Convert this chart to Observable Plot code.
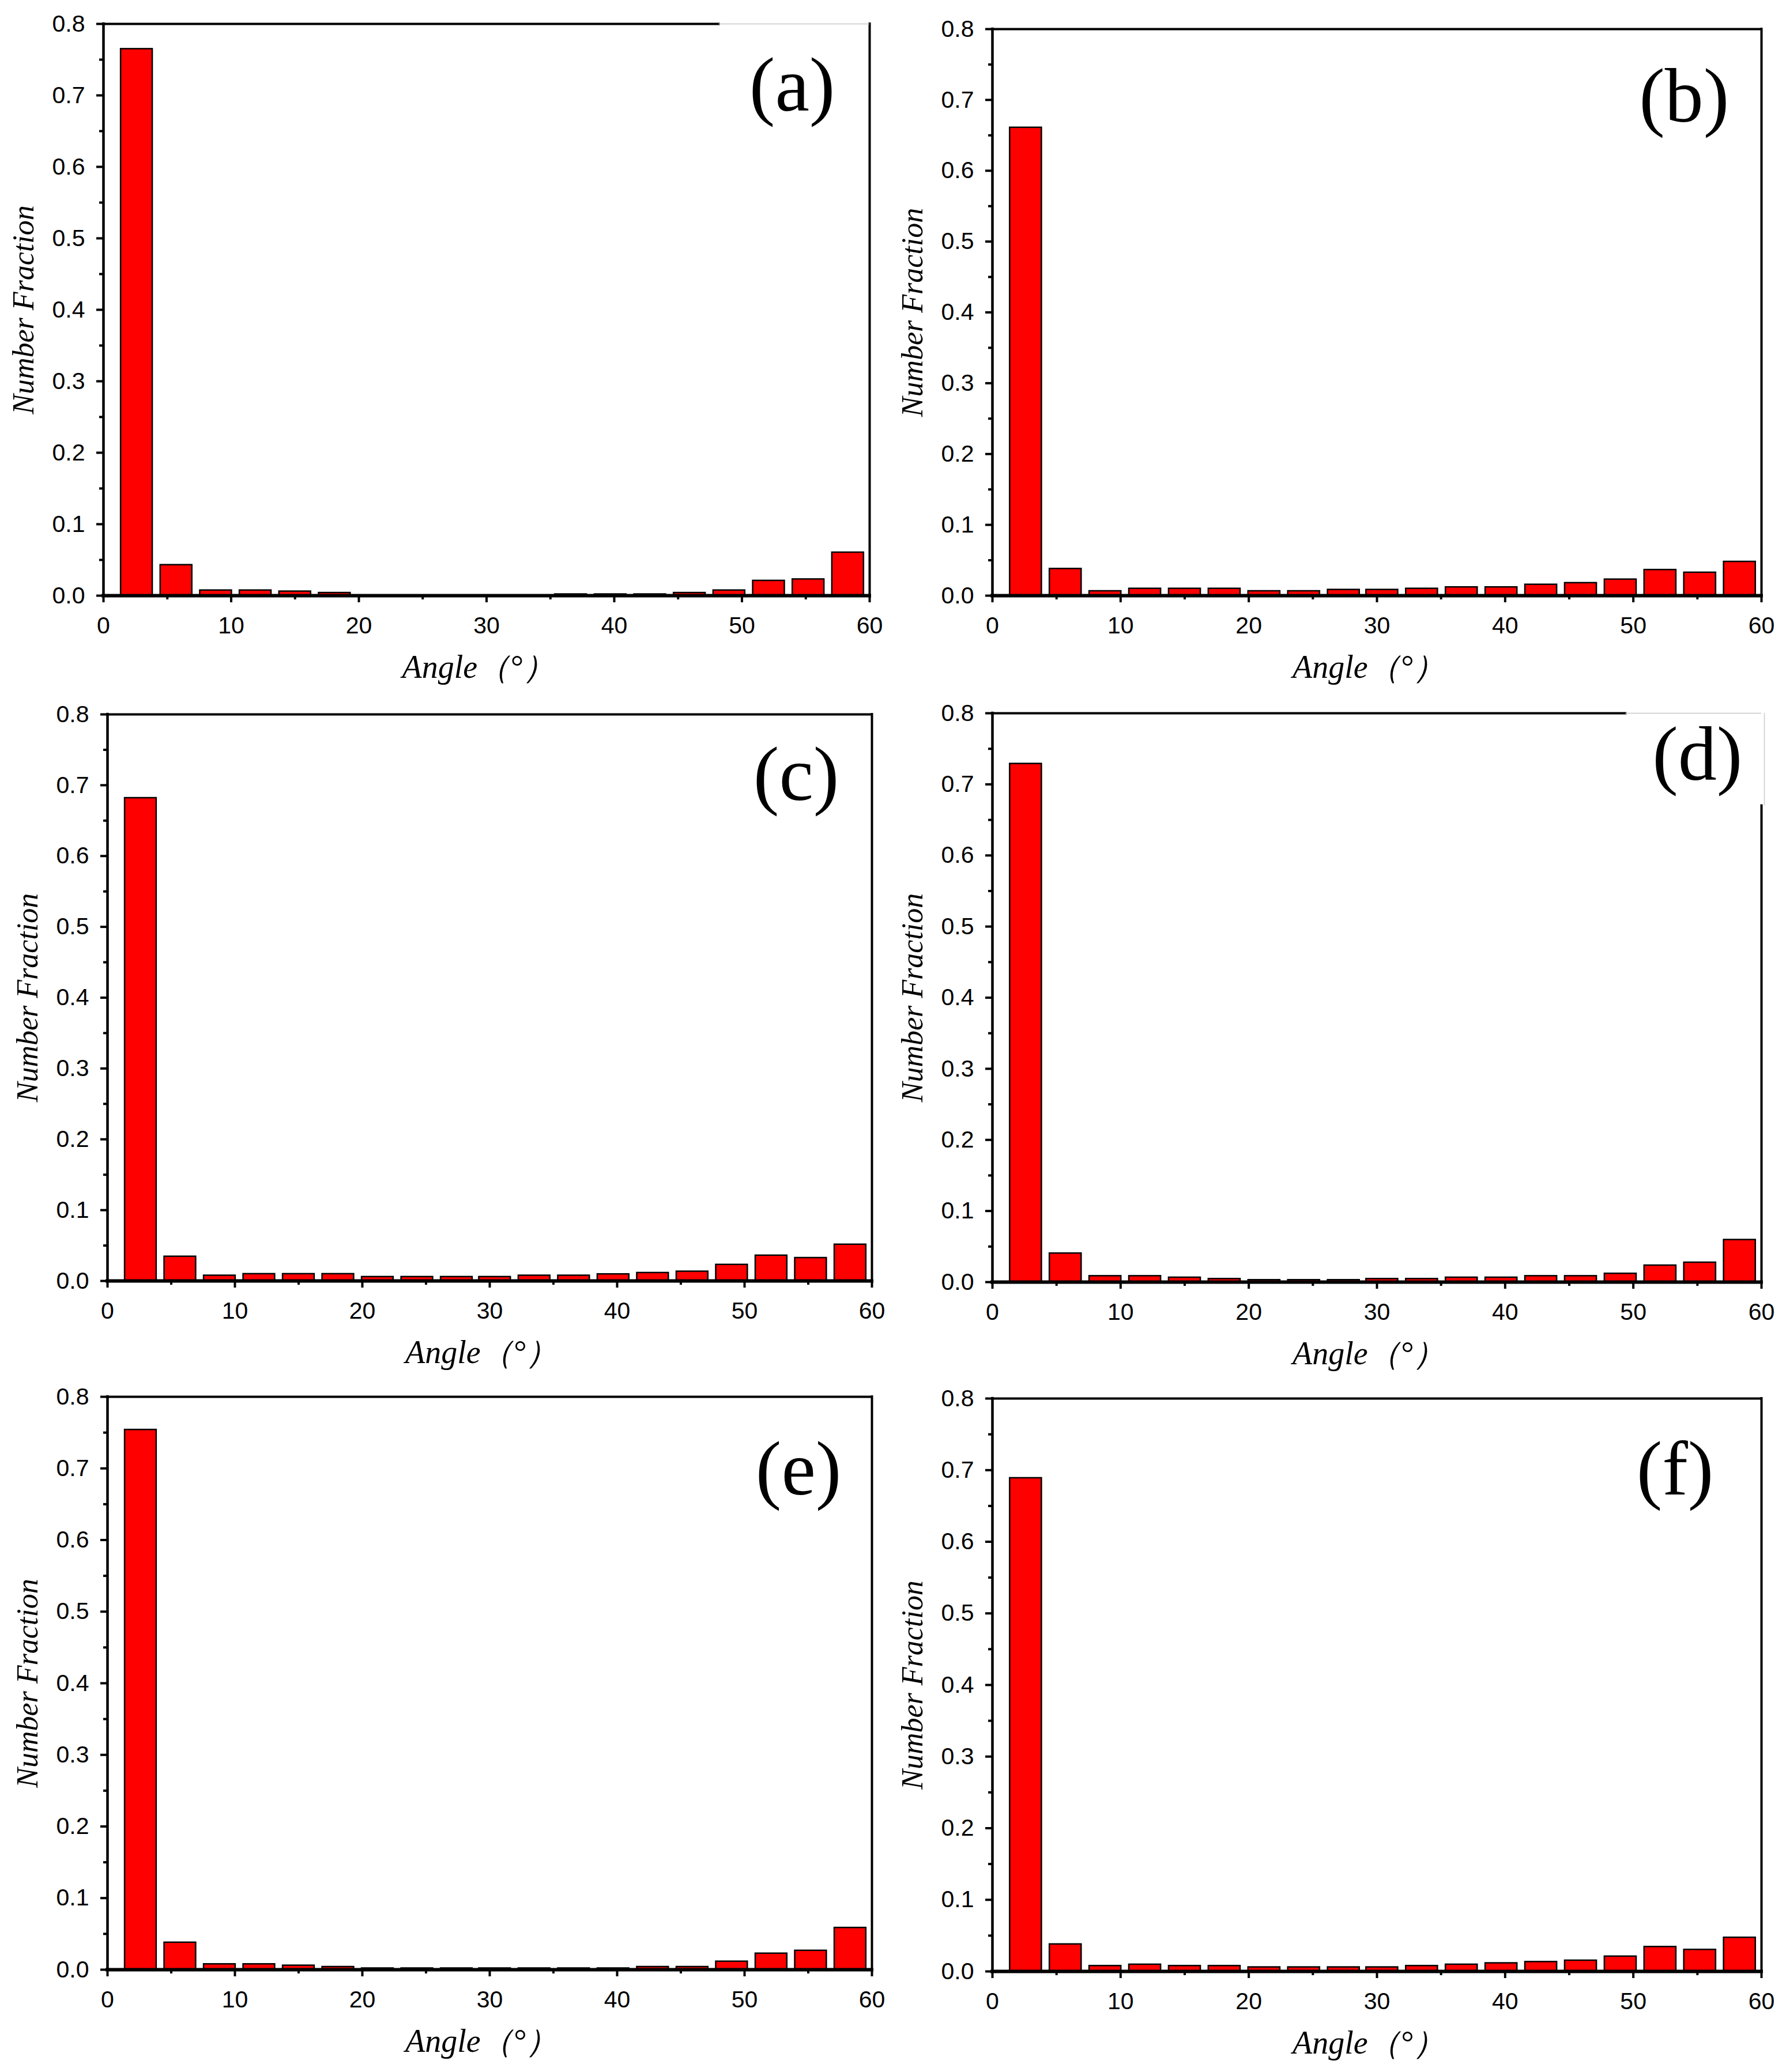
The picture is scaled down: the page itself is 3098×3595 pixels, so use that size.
<!DOCTYPE html>
<html><head><meta charset="utf-8">
<script src="https://cdn.jsdelivr.net/npm/d3@7"></script>
<script src="https://cdn.jsdelivr.net/npm/@observablehq/plot@0.6"></script>
<style>
body{margin:0;background:#fff;}
#wrap{position:relative;width:3098px;height:3595px;background:#fff;overflow:hidden;}
#wrap > svg{position:absolute;}
</style></head><body><div id="wrap"></div>
<script>
// ---- data ----
const binCenters = [2.6, 5.7, 8.8, 11.9, 15.0, 18.1, 21.2, 24.3, 27.4, 30.4, 33.5, 36.6, 39.7, 42.8, 45.9, 49.0, 52.1, 55.2, 58.3];
const panelLabels = ["(a)", "(b)", "(c)", "(d)", "(e)", "(f)"];
const valuesA = [0.765, 0.043, 0.0075, 0.0075, 0.006, 0.004, 0, 0, 0, 0, 0, 0.002, 0.002, 0.002, 0.004, 0.0075, 0.021, 0.023, 0.0605];
const valuesB = [0.661, 0.038, 0.0065, 0.010, 0.010, 0.010, 0.0065, 0.0065, 0.0084, 0.0084, 0.010, 0.012, 0.012, 0.0157, 0.018, 0.023, 0.0365, 0.0327, 0.048];
const valuesC = [0.682, 0.0345, 0.0077, 0.0099, 0.0099, 0.0099, 0.0058, 0.0058, 0.0058, 0.0058, 0.0077, 0.0077, 0.0096, 0.0115, 0.0134, 0.023, 0.036, 0.0326, 0.0515];
const valuesD = [0.729, 0.0405, 0.0086, 0.0086, 0.0065, 0.0046, 0.003, 0.003, 0.003, 0.0046, 0.0046, 0.0065, 0.0065, 0.0086, 0.0086, 0.012, 0.0235, 0.0276, 0.0595];
const valuesE = [0.754, 0.038, 0.0078, 0.0078, 0.0059, 0.004, 0.002, 0.002, 0.002, 0.002, 0.002, 0.002, 0.002, 0.004, 0.004, 0.0115, 0.0227, 0.0267, 0.0586];
const valuesF = [0.689, 0.038, 0.0078, 0.0097, 0.0078, 0.0078, 0.0059, 0.0059, 0.0059, 0.0059, 0.0078, 0.0097, 0.0116, 0.0134, 0.0153, 0.021, 0.0344, 0.0304, 0.0473];
const xMajorTicks = [0, 10, 20, 30, 40, 50, 60];
const xMinorTicks = [5, 15, 25, 35, 45, 55];
const yMajorTicks = [0, 0.1, 0.2, 0.3, 0.4, 0.5, 0.6, 0.7, 0.8];
const yMinorTicks = [0.05, 0.15, 0.25, 0.35, 0.45, 0.55, 0.65, 0.75];
const xTitle = "Angle（°）";
const yTitle = "Number Fraction";

// ---- layout ----
const allValues = [valuesA, valuesB, valuesC, valuesD, valuesE, valuesF];
const plotLeft = [179, 1721, 186, 1721, 186, 1721];
const plotTop = [41, 50, 1239, 1237, 2423, 2426];
const plotRight = [1508, 3055, 1512, 3055, 1512, 3055];
const plotBottom = [1033, 1033, 2222, 2224, 3417, 3420];
const labelDx = [-60, -56, -57, -33, -53, -83];
const labelDy = [150, 160, 148, 115, 169, 166];
const topFrameEnd = [48.2, 60, 60, 49.4, 60, 60];
const rightFrameEnd = [0.8, 0.8, 0.8, 0.67, 0.8, 0.8];
const halfW = 1.24;
const mL = 160, mR = 40, mT = 20, mB = 170;

const wrap = document.getElementById("wrap");
const serif = "Liberation Serif";
const sans = "Liberation Sans";

allValues.forEach((vals, i) => {
  const data = binCenters.map((c, k) => ({c, v: vals[k]}));
  const pw = plotRight[i] - plotLeft[i];
  const ph = plotBottom[i] - plotTop[i];
  const marks = [
    Plot.rect(data, {x1: d => d.c - halfW, x2: d => d.c + halfW, y1: d => 0, y2: "v",
      fill: "#ff0000", stroke: "#000", strokeWidth: 2.5}),
    Plot.ruleY([{y: 0.8, a: 0, b: topFrameEnd[i]}], {y: "y", x1: "a", x2: "b", stroke: "#000", strokeWidth: 4, strokeLinecap: "square"}),
    Plot.ruleX([{x: 60, a: 0, b: rightFrameEnd[i]}], {x: "x", y1: "a", y2: "b", stroke: "#000", strokeWidth: 4, strokeLinecap: "square"}),
    Plot.ruleX([{x: 0, a: 0, b: 0.8}], {x: "x", y1: "a", y2: "b", stroke: "#000", strokeWidth: 4.5, strokeLinecap: "square"}),
    Plot.ruleY([{y: 0, a: 0, b: 60}], {y: "y", x1: "a", x2: "b", stroke: "#000", strokeWidth: 6, strokeLinecap: "square"}),
    Plot.axisX({ticks: xMajorTicks, tickSize: 12, tickPadding: 24, strokeWidth: 4, label: null,
      fontSize: 41, fontFamily: sans, tickFormat: d3.format("d")}),
    Plot.axisX({ticks: xMinorTicks, tickSize: 7, strokeWidth: 4, label: null, tickFormat: () => ""}),
    Plot.axisY({ticks: yMajorTicks, tickSize: 12, tickPadding: 20, strokeWidth: 4, label: null,
      fontSize: 41, fontFamily: sans, tickFormat: d3.format(".1f")}),
    Plot.axisY({ticks: yMinorTicks, tickSize: 7, strokeWidth: 4, label: null, tickFormat: () => ""}),
    Plot.text([panelLabels[i]], {frameAnchor: "top-right", textAnchor: "end", lineAnchor: "bottom",
      dx: labelDx[i], dy: labelDy[i], fontSize: 134, fontFamily: serif, fill: "#000"}),
    Plot.text([yTitle], {frameAnchor: "left", rotate: -90, dx: -138, textAnchor: "middle", lineAnchor: "middle",
      fontSize: 52, fontStyle: "italic", fontFamily: serif, fill: "#000"}),
    Plot.text([xTitle], {frameAnchor: "bottom", dy: 142, dx: -14, textAnchor: "middle", lineAnchor: "bottom",
      fontSize: 56, fontStyle: "italic", fontFamily: serif, fill: "#000"})
  ];
  if (topFrameEnd[i] < 60) {
    marks.push(Plot.ruleY([{y: 0.8, a: topFrameEnd[i], b: 60}], {y: "y", x1: "a", x2: "b", stroke: "#c8c8c8", strokeWidth: 1.5}));
  }
  if (rightFrameEnd[i] < 0.8) {
    marks.push(Plot.ruleX([{x: 60, a: rightFrameEnd[i], b: 0.8}], {x: "x", y1: "a", y2: "b", stroke: "#c8c8c8", strokeWidth: 1.5, dx: 5}));
  }
  const svg = Plot.plot({
    width: pw + mL + mR,
    height: ph + mT + mB,
    marginLeft: mL, marginRight: mR, marginTop: mT, marginBottom: mB,
    x: {domain: [0, 60]},
    y: {domain: [0, 0.8]},
    style: {background: "transparent", color: "#000", fontFamily: sans, overflow: "visible"},
    marks
  });
  svg.style.left = (plotLeft[i] - mL) + "px";
  svg.style.top = (plotTop[i] - mT) + "px";
  wrap.appendChild(svg);
});
</script>
</body></html>
